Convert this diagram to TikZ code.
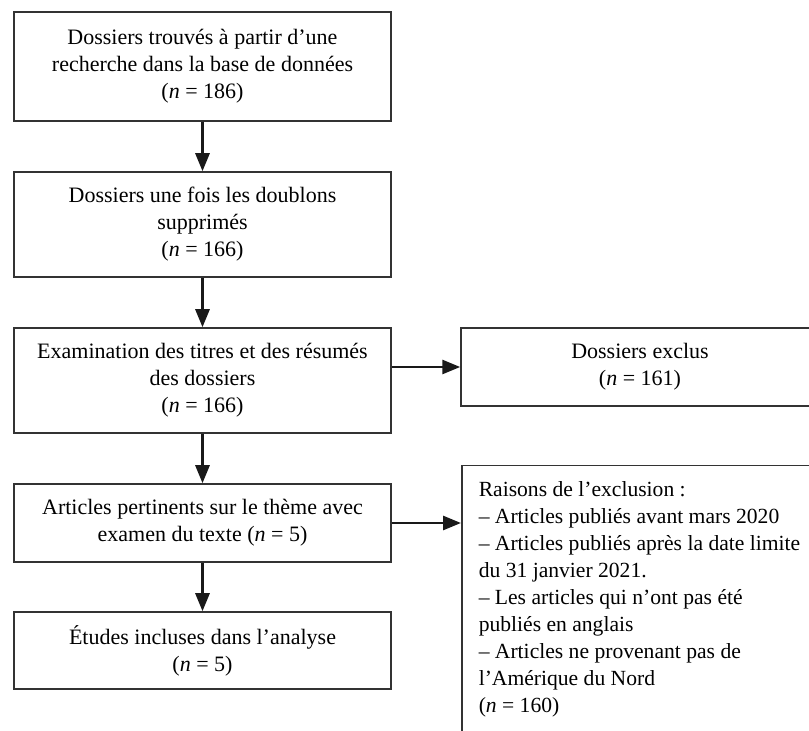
\documentclass[tikz,border=0pt]{standalone}
\usepackage{fontspec}
\setmainfont{Liberation Serif}
\usetikzlibrary{arrows.meta}

\tikzset{
  boite/.style={draw=black!80, line width=0.75pt, align=center, inner sep=0pt,
    minimum width=188.5pt},
  fleche/.style={draw=black!90, line width=1.4pt, -{Triangle[length=9pt,width=7pt]}},
}

\begin{document}
\begin{tikzpicture}[x=0.5pt,y=-0.5pt,font=\fontsize{11}{13.5}\selectfont]
\clip (0,0) rectangle (809,731);
% colonne principale
\node[boite, minimum height=54.5pt] (trouves) at (202.5,66.5)
  {Dossiers trouvés à partir d’une\\ recherche dans la base de données\\ (\textit{n} = 186)};
\node[boite, minimum height=52.5pt] (doublons) at (202.5,224.5)
  {Dossiers une fois les doublons\\ supprimés\\ (\textit{n} = 166)};
\node[boite, minimum height=52.5pt] (examen) at (202.5,380.5)
  {Examination des titres et des résumés\\ des dossiers\\ (\textit{n} = 166)};
\node[boite, minimum height=39pt] (pertinents) at (202.5,523)
  {Articles pertinents sur le thème avec\\ examen du texte (\textit{n} = 5)};
\node[boite, minimum height=38.5pt] (incluses) at (202.5,650.5)
  {Études incluses dans l’analyse\\ (\textit{n} = 5)};
% exclusions
\node[boite, minimum width=179pt, minimum height=39pt] (exclus) at (640,367)
  {Dossiers exclus\\ (\textit{n} = 161)};
\node[boite, anchor=north west, minimum width=0pt, inner xsep=8.5pt, inner ysep=8pt,
  align=left, font=\fontsize{10.8}{13.5}\selectfont] (raisons) at (461,465)
  {\begin{minipage}[t][140pt][t]{172pt}\raggedright
   Raisons de l’exclusion :\\
   – Articles publiés avant mars 2020\\
   – Articles publiés après la date limite\\
   du 31 janvier 2021.\\
   – Les articles qui n’ont pas été\\
   publiés en anglais\\
   – Articles ne provenant pas de\\
   l’Amérique du Nord\\
   (\textit{n} = 160)
   \end{minipage}};

\draw[fleche] (trouves) -- (doublons);
\draw[fleche] (doublons) -- (examen);
\draw[fleche] (examen) -- (pertinents);
\draw[fleche] (pertinents) -- (incluses);
\draw[fleche] (examen.east |- exclus.west) -- (exclus.west);
\draw[fleche] (pertinents.east) -- (pertinents.east -| raisons.west);
\end{tikzpicture}
\end{document}
